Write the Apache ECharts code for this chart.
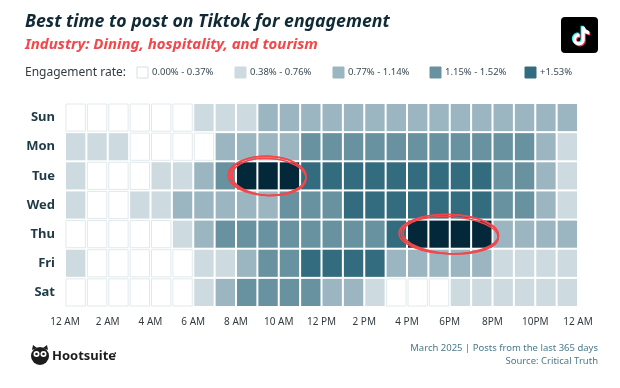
<!DOCTYPE html>
<html>
<head>
<meta charset="utf-8">
<script src="https://cdn.jsdelivr.net/npm/echarts@6/dist/echarts.min.js"></script>
<style>
html,body{margin:0;padding:0;background:#fff;}
#chart{width:620px;height:388px;}
</style>
</head>
<body>
<div id="chart"></div>
<script>
// ---- data ----
const days = ['Sun', 'Mon', 'Tue', 'Wed', 'Thu', 'Fri', 'Sat'];
const hours = ['12AM','1AM','2AM','3AM','4AM','5AM','6AM','7AM','8AM','9AM','10AM','11AM',
               '12PM','1PM','2PM','3PM','4PM','5PM','6PM','7PM','8PM','9PM','10PM','11PM'];
const tickLabels = ['12 AM','2 AM','4 AM','6 AM','8 AM','10 AM','12 PM','2 PM','4 PM','6PM','8PM','10PM','12 AM'];
const legendLabels = ['0.00% - 0.37%','0.38% - 0.76%','0.77% - 1.14%','1.15% - 1.52%','+1.53%'];
// engagement bucket per hour (0 = lowest bucket ... 4 = +1.53%, 5 = top highlighted hours)
const sun = [0,0,0,0,0,0,1,1,1,2,2,2,2,2,2,2,2,2,2,2,2,2,2,2];
const mon = [1,1,1,0,0,0,0,2,2,2,2,3,3,3,3,3,3,3,3,3,3,3,2,1];
const tue = [1,0,0,0,1,1,2,3,5,5,5,4,4,4,4,4,4,4,4,4,3,3,2,1];
const wed = [1,0,0,1,1,2,2,2,2,2,3,3,3,4,4,4,4,4,4,4,3,3,2,1];
const thu = [0,0,0,0,0,1,2,3,3,3,3,3,3,3,3,4,5,5,5,5,2,2,2,2];
const fri = [1,0,0,0,0,0,1,1,2,3,3,4,4,4,4,2,2,2,2,2,1,1,1,1];
const sat = [0,0,0,0,0,0,1,2,3,3,3,3,2,2,1,0,0,0,1,1,1,1,1,1];
// circled best windows: [day, first hour index, last hour index]
const highlights = [['Tue', 8, 10], ['Thu', 16, 19]];

// ---- styling ----
const levelColors = ['#ffffff', '#cddbe0', '#9bb6c0', '#6892a0', '#346c7f', '#03283a'];
const FONT = "'Noto Sans', 'Open Sans', sans-serif";

const rows = [sun, mon, tue, wed, thu, fri, sat];
const cells = [];
rows.forEach((r, ri) => r.forEach((v, ci) => cells.push([ci, ri, v])));
const hlData = highlights.map(h => [h[1], h[2], days.indexOf(h[0])]);

const notePath = 'M16.6 5.82A4.278 4.278 0 0 1 15.54 3h-3.09v12.4a2.592 2.592 0 0 1-2.59 2.5c-1.42 0-2.6-1.16-2.6-2.6 0-1.72 1.66-3.010 3.37-2.48V9.66c-3.45-.46-6.47 2.22-6.47 5.64 0 3.33 2.76 5.7 5.69 5.7 3.14 0 5.69-2.55 5.69-5.7V9.01a7.35 7.35 0 0 0 4.3 1.38V7.3s-1.88.09-3.24-1.48z';
const tiktokSvg = '<svg xmlns="http://www.w3.org/2000/svg" width="37" height="36" viewBox="0 0 37 36">' +
  '<rect width="37" height="36" rx="4" fill="#000"/>' +
  '<g transform="translate(6.5 5.5) scale(1.05)"><path d="' + notePath + '" fill="#25f4ee"/></g>' +
  '<g transform="translate(8.5 7.5) scale(1.05)"><path d="' + notePath + '" fill="#fe2c55"/></g>' +
  '<g transform="translate(7.5 6.5) scale(1.05)"><path d="' + notePath + '" fill="#fff"/></g>' +
  '</svg>';
const tiktokUri = 'data:image/svg+xml;charset=utf-8,' + encodeURIComponent(tiktokSvg);

const chart = echarts.init(document.getElementById('chart'), null, {renderer: 'canvas'});

function ellipsePath(cx, cy, rx, ry) {
  return 'M' + (cx - rx) + ' ' + cy +
    ' A' + rx + ' ' + ry + ' 0 1 0 ' + (cx + rx) + ' ' + cy +
    ' A' + rx + ' ' + ry + ' 0 1 0 ' + (cx - rx) + ' ' + cy + ' Z';
}

const legendGraphics = [];
const legendX = [137, 235, 333, 430, 525];
legendLabels.forEach((lab, i) => {
  legendGraphics.push({
    type: 'rect', x: legendX[i], y: 67,
    shape: {x: 0, y: 0, width: 11, height: 11},
    style: {fill: levelColors[i], stroke: i === 0 ? '#d5e0e4' : levelColors[i], lineWidth: 1}
  });
  legendGraphics.push({
    type: 'text', x: legendX[i] + 15, y: 72.5,
    style: {text: lab, font: '9.5px ' + FONT, fill: '#3a4a52', verticalAlign: 'middle'}
  });
});

const option = {
  backgroundColor: '#ffffff',
  animation: false,
  grid: {left: 65, right: 42, top: 103, bottom: 81},
  xAxis: [
    {type: 'category', data: hours, gridIndex: 0,
     axisLine: {show: false}, axisTick: {show: false}, axisLabel: {show: false}, splitLine: {show: false}},
    {type: 'value', min: 0, max: 24, interval: 2, position: 'bottom', gridIndex: 0,
     axisLine: {show: false}, axisTick: {show: false}, splitLine: {show: false},
     axisLabel: {margin: 10, color: '#333b40', fontFamily: FONT, fontSize: 10,
       formatter: v => tickLabels[Math.round(v / 2)]}}
  ],
  yAxis: {type: 'category', data: days, inverse: true,
    axisLine: {show: false}, axisTick: {show: false}, splitLine: {show: false},
    axisLabel: {margin: 10, color: '#1e3a46', fontFamily: FONT, fontWeight: 'bold', fontSize: 13}},
  series: [
    {
      type: 'custom', xAxisIndex: 0, yAxisIndex: 0, data: cells,
      encode: {x: 0, y: 1},
      renderItem: function (params, api) {
        const c = api.coord([api.value(0), api.value(1)]);
        const s = api.size([1, 1]);
        const lv = api.value(2);
        return {
          type: 'rect',
          shape: {x: c[0] - s[0] / 2 + 1, y: c[1] - s[1] / 2 + 1, width: s[0] - 2, height: s[1] - 2},
          style: {fill: levelColors[lv], stroke: lv === 0 ? '#e1e9ec' : null, lineWidth: lv === 0 ? 1 : 0}
        };
      }
    },
    {
      type: 'custom', xAxisIndex: 0, yAxisIndex: 0, data: hlData, z: 10, clip: false,
      encode: {x: [0, 1], y: 2},
      renderItem: function (params, api) {
        const a = api.coord([api.value(0), api.value(2)]);
        const b = api.coord([api.value(1), api.value(2)]);
        const s = api.size([1, 1]);
        const cx = (a[0] + b[0]) / 2, cy = a[1];
        const rx = (b[0] - a[0]) / 2 + s[0] / 2 + 6;
        const ry = s[1] / 2 + 5;
        const mk = (dx, dy, drx, dry, rot) => ({
          type: 'path', x: cx, y: cy, rotation: rot,
          shape: {pathData: ellipsePath(dx, dy, rx + drx, ry + dry)},
          style: {fill: null, stroke: '#f2474b', lineWidth: 1.5}
        });
        return {type: 'group', children: [
          mk(0, 0, 0, 0, -0.04), mk(1, 1, -1, -1, -0.06), mk(-1, 0, 1, 0, -0.02)
        ]};
      }
    }
  ],
  graphic: [
    {type: 'text', x: 25, y: 13,
     style: {text: 'Best time to post on Tiktok for engagement', font: 'italic bold 17.7px ' + FONT, fill: '#0f2a35'}},
    {type: 'text', x: 25, y: 37,
     style: {text: 'Industry: Dining, hospitality, and tourism', font: 'italic bold 15px ' + FONT, fill: '#f2474b'}},
    {type: 'text', x: 25, y: 72.5,
     style: {text: 'Engagement rate:', font: '12px ' + FONT, fill: '#333b40', verticalAlign: 'middle'}},
    ...legendGraphics,
    {type: 'image', x: 561, y: 17, style: {image: tiktokUri, width: 37, height: 36}},
    // Hootsuite logo
    {type: 'circle', shape: {cx: 40, cy: 356, r: 9}, style: {fill: '#1c1c1c'}},
    {type: 'polygon', shape: {points: [[32, 350], [33, 345], [37, 348]]}, style: {fill: '#1c1c1c'}},
    {type: 'polygon', shape: {points: [[48, 350], [47, 345], [43, 348]]}, style: {fill: '#1c1c1c'}},
    {type: 'circle', shape: {cx: 36.5, cy: 354, r: 3}, style: {fill: '#ffffff'}},
    {type: 'circle', shape: {cx: 43.5, cy: 354, r: 3}, style: {fill: '#ffffff'}},
    {type: 'circle', shape: {cx: 36.5, cy: 354, r: 1.3}, style: {fill: '#1c1c1c'}},
    {type: 'circle', shape: {cx: 43.5, cy: 354, r: 1.3}, style: {fill: '#1c1c1c'}},
    {type: 'text', x: 52, y: 356,
     style: {text: 'Hootsuite', font: 'bold 13px ' + FONT, fill: '#1c1c1c', verticalAlign: 'middle'}},
    {type: 'text', x: 114, y: 354, style: {text: '•', font: '7px ' + FONT, fill: '#1c1c1c', verticalAlign: 'middle'}},
    // footer
    {type: 'text', x: 598, y: 348,
     style: {text: 'March 2025 | Posts from the last 365 days', font: '9.5px ' + FONT, fill: '#4b7a8a', align: 'right', verticalAlign: 'middle'}},
    {type: 'text', x: 598, y: 361,
     style: {text: 'Source: Critical Truth', font: '9.5px ' + FONT, fill: '#4b7a8a', align: 'right', verticalAlign: 'middle'}}
  ]
};
chart.setOption(option);
</script>
</body>
</html>
